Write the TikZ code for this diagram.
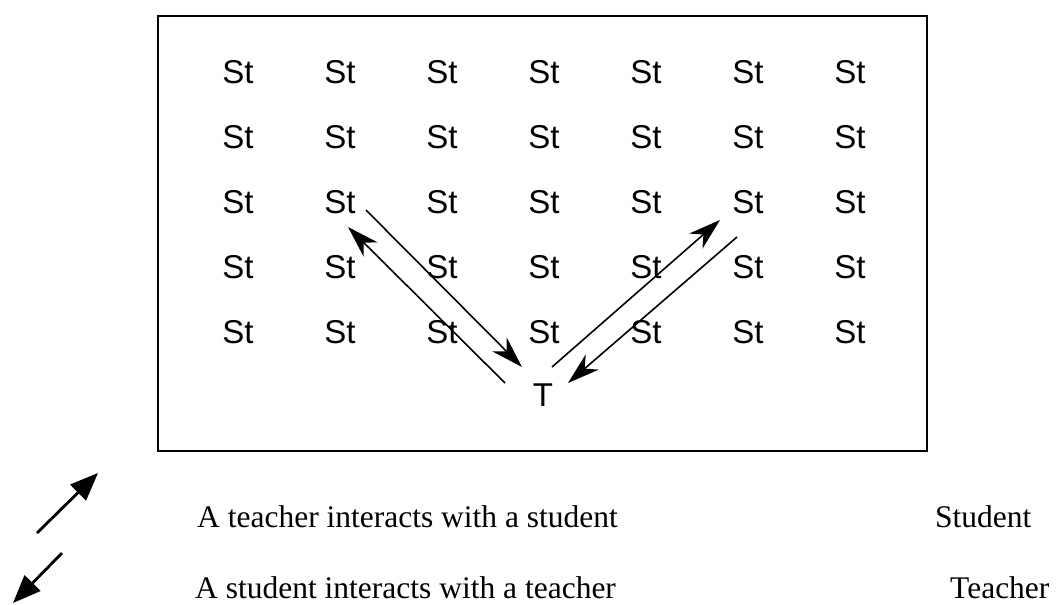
\documentclass[tikz,border=0pt]{standalone}
\usepackage{fontspec}
\setmainfont{Liberation Serif}
\newfontfamily\stfont{Liberation Sans}
\usetikzlibrary{arrows.meta}
\begin{document}
\begin{tikzpicture}[x=1pt,y=-1pt,
  stud/.style={font=\stfont\fontsize{33}{36}\selectfont, inner sep=0pt},
  legtext/.style={font=\fontsize{31.5}{36}\selectfont, anchor=base west, inner sep=0pt},
  arr/.style={line width=1.6pt, -{Stealth[length=32pt,width=20pt,inset=10pt]}},
  legarr/.style={line width=2.8pt, -{Triangle[length=28pt,width=22pt]}},
  frame/.style={line width=1.6pt}]
\useasboundingbox (0,0) rectangle (1058,605);
\draw[frame] (158,16) rectangle (927,451);
\foreach \r/\y in {1/72,2/137,3/202,4/267,5/332}{
  \foreach \c/\x in {1/238,2/340,3/442,4/544,5/646,6/748,7/850}{
    \node[stud] (s\r\c) at (\x,\y) {St};
  }
}
\node[stud] (T) at (543,395) {T};
% arrows
\draw[arr] ([shift={(26,8)}]s32.center) -- ([shift={(-21,-28)}]T.center);
\draw[arr] ([shift={(-38,-12)}]T.center) -- ([shift={(8,25)}]s32.center);
\draw[arr] ([shift={(9,-28)}]T.center) -- ([shift={(-28,18)}]s36.center);
\draw[arr] ([shift={(-11,35)}]s36.center) -- ([shift={(25,-12)}]T.center);
% legend
\coordinate (lu1) at (37,533);
\coordinate (lu2) at (98,473);
\coordinate (ld1) at (62,553);
\coordinate (ld2) at (13,603);
\draw[legarr] (lu1) -- (lu2);
\draw[legarr] (ld1) -- (ld2);
\node[legtext] (l1) at (197,527) {A teacher interacts with a student};
\node[legtext] (l2) at (195,598) {A student interacts with a teacher};
\node[legtext] (l3) at (935,527) {Student};
\node[legtext] (l4) at (950,598) {Teacher};
\end{tikzpicture}
\end{document}
